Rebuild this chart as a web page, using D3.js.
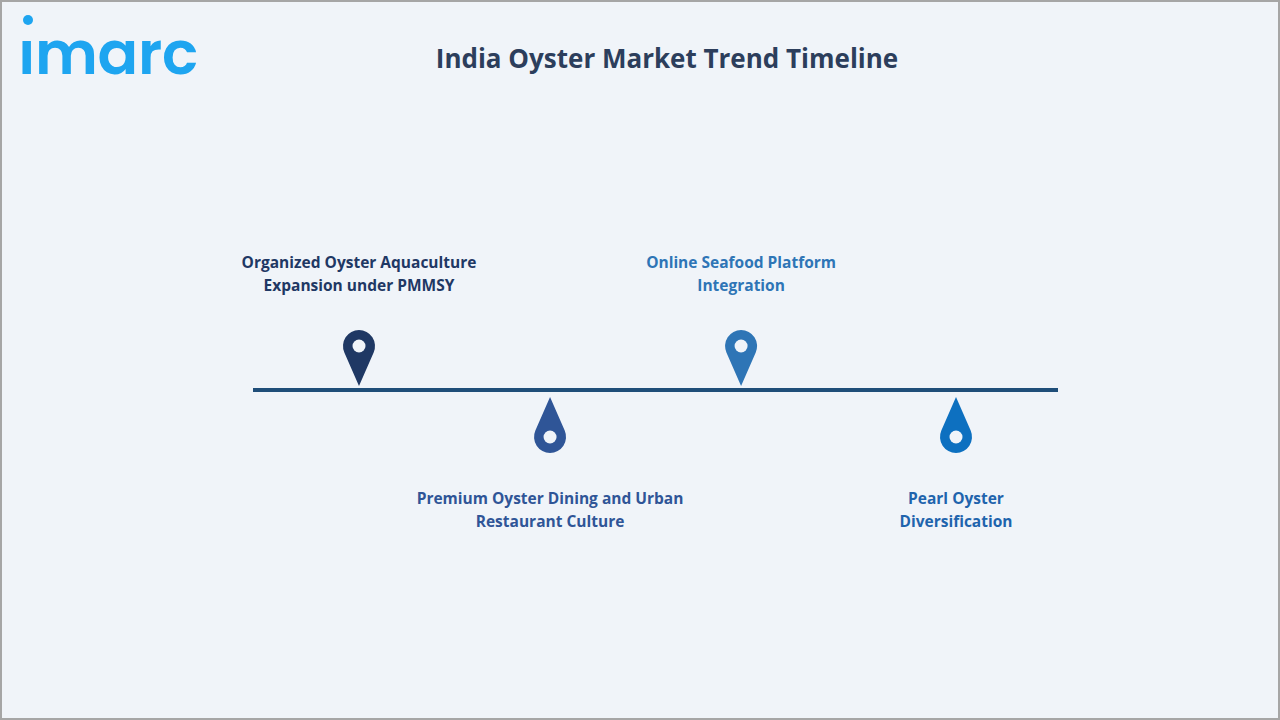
<!DOCTYPE html>
<html><head><meta charset="utf-8">
<script src="https://cdn.jsdelivr.net/npm/d3@7"></script>
<style>body{margin:0;background:#fff}svg{display:block}</style>
</head><body>
<script>
const labels = [["Organized Oyster Aquaculture","Expansion under PMMSY"],["Premium Oyster Dining and Urban","Restaurant Culture"],["Online Seafood Platform","Integration"],["Pearl Oyster","Diversification"]];
const positions = [0, 0.32, 0.64, 1];
const sides = ["up","down","up","down"];
const pinColors = ["#1f3864","#2f5597","#2e75b6","#0d70c0"];
const textColors = ["#1f3864","#2f5597","#2e75b6","#1f64ad"];

const W = 1280, H = 720;
const svg = d3.select("body").append("svg").attr("width", W).attr("height", H);
svg.append("rect").attr("x",1).attr("y",1).attr("width",W-2).attr("height",H-2)
  .attr("fill","#f0f4f9").attr("stroke","#a6a6a6").attr("stroke-width",2);

// logo
svg.append("circle").attr("cx",28).attr("cy",20).attr("r",5).attr("fill","#1ea5f0");
svg.append("text").attr("x",18).attr("y",74).attr("font-family","Poppins, Inter, sans-serif")
  .attr("font-size",60).attr("font-weight",600).attr("fill","#1ea5f0").attr("textLength",180).text("ımarc");

svg.append("text").attr("x",667).attr("y",68).attr("text-anchor","middle")
  .attr("font-family","Open Sans, sans-serif").attr("font-weight",700).attr("font-size",26)
  .attr("fill","#2c3e5c").text("India Oyster Market Trend Timeline");

const x = d3.scaleLinear().domain([0,1]).range([359,956]);
const lineY = 390;
svg.append("line").attr("x1",253).attr("x2",1058).attr("y1",lineY).attr("y2",lineY)
  .attr("stroke","#1f4e79").attr("stroke-width",4);

const r = 16;
function pinPath(tipDist){ // pointing down, tip at (0,0), head center at (0,-tipDist)
  const a = Math.asin(r / tipDist);
  const px = r*Math.cos(a), py = -tipDist + r*Math.sin(a);
  return `M0,0 L${-px},${py} A${r},${r} 0 1 1 ${px},${py} Z`;
}

const g = svg.selectAll("g.pin").data(positions).join("g")
  .attr("transform", (d,i) => sides[i]==="up"
    ? `translate(${x(d)},${lineY-4})`
    : `translate(${x(d)},${lineY+7}) scale(1,-1)`);
g.append("path").attr("d", pinPath(40)).attr("fill",(d,i)=>pinColors[i]);
g.append("circle").attr("cy",-40).attr("r",6.5).attr("fill","#f0f4f9");

svg.selectAll("text.lbl").data(positions).join("text").attr("class","lbl")
  .attr("x", d => x(d))
  .attr("y", (d,i) => sides[i]==="up" ? 268 : 504)
  .attr("text-anchor","middle")
  .attr("font-family","Open Sans, sans-serif").attr("font-weight",700).attr("font-size",15.5)
  .attr("fill",(d,i)=>textColors[i])
  .each(function(d,i){
    d3.select(this).selectAll("tspan").data(labels[i]).join("tspan")
      .attr("x", x(d)).attr("dy",(t,j)=>j?23:0).text(t=>t);
  });
</script>
</body></html>
